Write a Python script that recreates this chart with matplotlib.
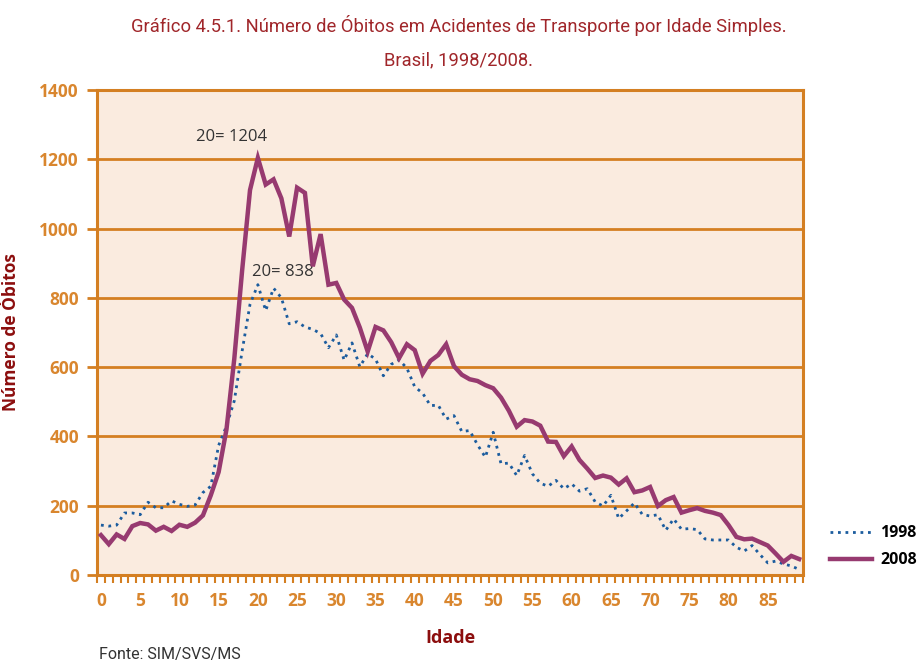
import matplotlib
matplotlib.use("Agg")
import matplotlib.pyplot as plt
import numpy as np

ages = np.arange(0, 90)

obitos_1998 = [
    144, 141, 144, 179, 179, 174, 210, 194, 194, 214,
    204, 198, 202, 238, 256, 374, 430, 503, 647, 781,
    838, 763, 828, 800, 725, 731, 716, 709, 697, 656,
    693, 620, 670, 601, 639, 623, 575, 608, 621, 597,
    543, 525, 489, 490, 450, 460, 414, 417, 376, 340,
    412, 321, 323, 287, 345, 292, 265, 256, 273, 249,
    263, 242, 249, 211, 199, 230, 163, 185, 208, 175,
    170, 174, 129, 162, 132, 134, 131, 104, 101, 101,
    101, 80, 69, 85, 59, 35, 40, 32, 26, 16,
]

obitos_2008 = [
    115, 89, 117, 104, 141, 150, 146, 128, 139, 127,
    145, 139, 151, 172, 230, 297, 420, 625, 880, 1111,
    1204, 1127, 1142, 1087, 977, 1118, 1103, 891, 984, 838,
    843, 795, 771, 714, 645, 716, 706, 672, 626, 666,
    649, 581, 618, 635, 666, 603, 578, 565, 560, 548,
    539, 512, 474, 428, 447, 443, 431, 385, 384, 343,
    371, 332, 307, 280, 287, 281, 261, 279, 239, 244,
    254, 199, 216, 225, 180, 187, 193, 185, 180, 173,
    144, 110, 103, 105, 95, 85, 62, 38, 55, 46,
]

x_labels = list(range(0, 90, 5))
y_ticks = list(range(0, 1401, 200))

ORANGE = "#D47F22"
TICK_ORANGE = "#D9862E"
DARK_RED = "#8C0E0E"
TITLE_RED = "#A0262A"
PURPLE = "#973A70"
BLUE = "#1B5C9E"
BG = "#FAEBDF"
SANS = ["Open Sans", "DejaVu Sans"]
TITLE_FONT = ["Roboto", "DejaVu Sans"]

fig = plt.figure(figsize=(9.18, 6.71), dpi=100)
ax = fig.add_axes([0.1057, 0.1431, 0.7691, 0.7228])
ax.set_facecolor(BG)

ax.plot(ages, obitos_1998, color=BLUE, linewidth=2.0, linestyle=(0, (1, 1.7)),
        label="1998", zorder=3)
ax.plot(ages, obitos_2008, color=PURPLE, linewidth=3.2, label="2008",
        solid_joinstyle="miter", zorder=4)

ax.set_xlim(-0.5, 89.5)
ax.set_ylim(0, 1400)

ax.set_yticks(y_ticks)
ax.set_yticklabels([str(v) for v in y_ticks])
ax.set_xticks(x_labels)
ax.set_xticklabels([str(v) for v in x_labels])
ax.set_xticks(np.arange(-0.5, 90, 1), minor=True)

ax.grid(axis="y", color=ORANGE, linewidth=2, zorder=1)
ax.set_axisbelow(True)

for side in ["left", "right", "top", "bottom"]:
    ax.spines[side].set_color(ORANGE)
    ax.spines[side].set_linewidth(2.2)

ax.tick_params(axis="y", which="major", length=7, width=2, color=ORANGE,
               labelcolor=TICK_ORANGE, pad=6)
ax.tick_params(axis="x", which="major", length=0, labelcolor=TICK_ORANGE, pad=12)
ax.tick_params(axis="x", which="minor", length=6, width=1.5, color=ORANGE)
for lab in ax.get_xticklabels() + ax.get_yticklabels():
    lab.set_fontfamily(SANS)
    lab.set_fontweight("bold")
    lab.set_fontsize(12.5)

ax.set_xlabel("Idade", fontsize=13, fontweight="bold", color=DARK_RED, labelpad=14,
              family=SANS)
ax.set_ylabel("Número de Óbitos", fontsize=12.5, fontweight="bold", color=DARK_RED,
              labelpad=14, family=SANS)

ax.text(16.7, 1264, "20= 1204", ha="center", va="center", fontsize=12,
        color="#333333", family=SANS)
ax.text(23.2, 876, "20= 838", ha="center", va="center", fontsize=12,
        color="#333333", family=SANS)

ax.legend(loc="center left", bbox_to_anchor=(0.889, 0.185), bbox_transform=fig.transFigure,
          frameon=False, handlelength=2.6, labelspacing=0.7, handletextpad=0.5,
          prop={"family": SANS, "weight": "bold", "size": 11.5})

fig.text(0.5, 0.962, "Gráfico 4.5.1. Número de Óbitos em Acidentes de Transporte por Idade Simples.",
         ha="center", va="center", fontsize=13.2, color=TITLE_RED, family=TITLE_FONT)
fig.text(0.5, 0.91, "Brasil, 1998/2008.", ha="center", va="center", fontsize=13.2,
         color=TITLE_RED, family=TITLE_FONT)
fig.text(0.108, 0.013, "Fonte: SIM/SVS/MS", ha="left", va="bottom", fontsize=11.5,
         color="#333333", family=TITLE_FONT)

fig.savefig("out.png", dpi=100)
